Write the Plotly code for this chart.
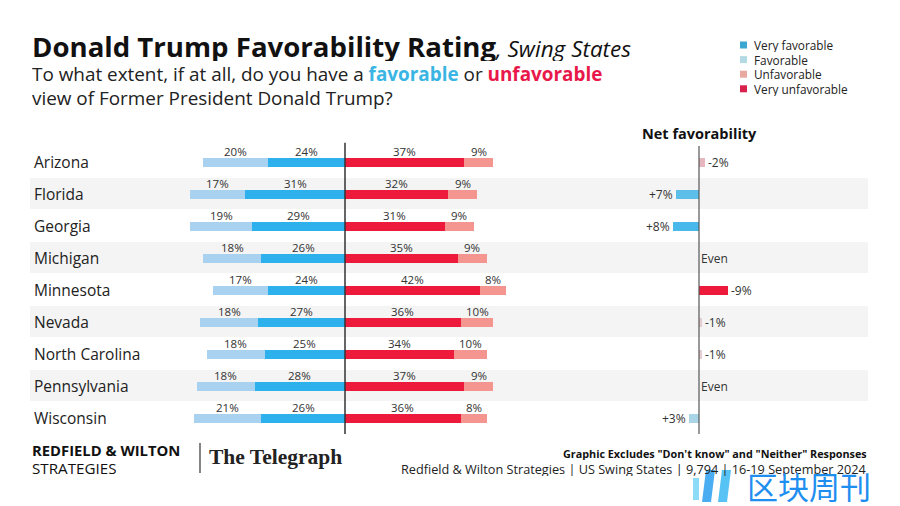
import plotly.graph_objects as go

states = ["Arizona", "Florida", "Georgia", "Michigan", "Minnesota", "Nevada",
          "North Carolina", "Pennsylvania", "Wisconsin"]
very_fav = [24, 31, 29, 26, 24, 27, 25, 28, 26]
fav = [20, 17, 19, 18, 17, 18, 18, 18, 21]
unfav = [9, 9, 9, 9, 8, 10, 10, 9, 8]
very_unfav = [37, 32, 31, 35, 42, 36, 34, 37, 36]
net = [-2, 7, 8, 0, -9, -1, -1, 0, 3]
legend_names = ["Very favorable", "Favorable", "Unfavorable", "Very unfavorable"]

C_VF = "#2cb1ec"
C_F = "#a9d2f0"
C_U = "#f4968f"
C_VU = "#ee1a3c"
LEG_COLORS = ["#3aa8d0", "#b3d9e3", "#e8a9a0", "#d8204c"]
FONT = "Open Sans"
W, H = 900, 506
PXPCT = 3.22
CX, NX = 345, 699
ROW0, ROWH = 162, 32

def px_y(p):
    return 1 - p / H

ys = list(range(len(states)))
fig = go.Figure()
bw = 9 / ROWH
common = dict(orientation="h", width=bw, hoverinfo="skip", showlegend=False)
fig.add_trace(go.Bar(y=ys, x=[-v for v in very_fav], name="Very favorable",
                     marker=dict(color=C_VF, line=dict(width=0)), **common))
fig.add_trace(go.Bar(y=ys, x=[-v for v in fav], name="Favorable",
                     marker=dict(color=C_F, line=dict(width=0)), **common))
fig.add_trace(go.Bar(y=ys, x=very_unfav, name="Very unfavorable",
                     marker=dict(color=C_VU, line=dict(width=0)), **common))
fig.add_trace(go.Bar(y=ys, x=unfav, name="Unfavorable",
                     marker=dict(color=C_U, line=dict(width=0)), **common))
fig.add_trace(go.Bar(y=ys, x=net, xaxis="x2", yaxis="y", name="Net",
                     marker=dict(color=net, cmin=-9, cmax=9,
                                 colorscale=[[0, "#ee1a3c"], [0.5, "#e4e4e4"], [1, "#36b3ec"]],
                                 line=dict(width=0)),
                     **common))

ann = []
shapes = []
# row bands
for i in ys:
    if i % 2 == 1:
        shapes.append(dict(type="rect", xref="paper", yref="y", x0=30 / W, x1=868 / W,
                           y0=i - 0.5, y1=i + 0.47, fillcolor="#f4f4f4", line=dict(width=0),
                           layer="below"))
# state labels and value labels
for i, s in enumerate(states):
    ann.append(dict(x=32 / W, xref="paper", y=i, yref="y", text=s, showarrow=False,
                    xanchor="left", yanchor="middle", font=dict(size=15.5, color="#222", family=FONT)))
    lab = dict(showarrow=False, yref="y", xref="x", yshift=11, yanchor="middle",
               font=dict(size=11.5, color="#333", family=FONT))
    ann.append(dict(lab, x=-very_fav[i] / 2, y=i, text=f"{very_fav[i]}%"))
    ann.append(dict(lab, x=-very_fav[i] - fav[i] / 2, y=i, text=f"{fav[i]}%"))
    ann.append(dict(lab, x=very_unfav[i] / 2, y=i, text=f"{very_unfav[i]}%"))
    ann.append(dict(lab, x=very_unfav[i] + unfav[i] / 2, y=i, text=f"{unfav[i]}%"))
    nf = dict(showarrow=False, yref="y", xref="x2", y=i, yanchor="middle",
              font=dict(size=12, color="#333", family=FONT))
    if net[i] > 0:
        ann.append(dict(nf, x=net[i], xanchor="right", xshift=-1, text=f"+{net[i]}%"))
    elif net[i] < 0:
        ann.append(dict(nf, x=net[i], xanchor="left", xshift=1, text=f"{net[i]}%"))
    else:
        ann.append(dict(nf, x=0, xanchor="left", xshift=0, text="Even"))

# axis lines
shapes.append(dict(type="line", xref="x", yref="y", x0=0, x1=0, y0=-0.6, y1=8.5,
                   line=dict(color="#333", width=1.5)))
shapes.append(dict(type="line", xref="x2", yref="y", x0=0, x1=0, y0=-0.5, y1=8.5,
                   line=dict(color="#555", width=1.2)))

# legend (manual)
for k, (nm, col) in enumerate(zip(legend_names, LEG_COLORS)):
    yc = 45 + k * 14.6
    shapes.append(dict(type="rect", xref="paper", yref="paper", x0=740 / W, x1=747 / W,
                       y0=px_y(yc + 3.5), y1=px_y(yc - 3.5), fillcolor=col, line=dict(width=0)))
    ann.append(dict(xref="paper", yref="paper", x=752 / W, y=px_y(yc), xanchor="left",
                    yanchor="middle", showarrow=False, text=nm, height=14, valign="middle",
                    font=dict(size=11.8, color="#222", family=FONT)))

# titles
ann.append(dict(xref="paper", yref="paper", x=30 / W, y=px_y(46), xanchor="left", yanchor="middle",
                showarrow=False, height=30,
                text="<b>Donald Trump Favorability Rating</b><span style='font-size:22.5px'><i>, Swing States</i></span>",
                font=dict(size=27.6, color="#111", family=FONT)))
ann.append(dict(xref="paper", yref="paper", x=30 / W, y=px_y(86), xanchor="left", yanchor="middle",
                showarrow=False, align="left", height=46,
                text="To what extent, if at all, do you have a <b><span style='color:#3ab5e3'>favorable</span></b> or "
                     "<b><span style='color:#e8194a'>unfavorable</span></b><br>view of Former President Donald Trump?",
                font=dict(size=18.9, color="#222", family=FONT)))
ann.append(dict(xref="x2", yref="paper", x=0, y=px_y(133), xanchor="center", yanchor="middle",
                showarrow=False, text="<b>Net favorability</b>",
                font=dict(size=14.5, color="#111", family=FONT)))

# footer
ann.append(dict(xref="paper", yref="paper", x=30 / W, y=px_y(450), xanchor="left", yanchor="middle",
                showarrow=False, text="<b>REDFIELD & WILTON</b>", height=16,
                font=dict(size=14.8, color="#111", family=FONT)))
ann.append(dict(xref="paper", yref="paper", x=30 / W, y=px_y(467.5), xanchor="left", yanchor="middle",
                showarrow=False, text="STRATEGIES", height=16,
                font=dict(size=15.2, color="#111", family=FONT)))
shapes.append(dict(type="line", xref="paper", yref="paper", x0=200 / W, x1=200 / W,
                   y0=px_y(443), y1=px_y(473), line=dict(color="#333", width=1.2)))
ann.append(dict(xref="paper", yref="paper", x=207 / W, y=px_y(457), xanchor="left", yanchor="middle",
                showarrow=False, text="<b>The Telegraph</b>",
                font=dict(size=21.5, color="#222", family="Liberation Serif")))
ann.append(dict(xref="paper", yref="paper", x=869 / W, y=px_y(453), xanchor="right", yanchor="middle",
                showarrow=False, text="<b>Graphic Excludes \"Don't know\" and \"Neither\" Responses</b>",
                height=14, font=dict(size=10.8, color="#111", family=FONT)))
ann.append(dict(xref="paper", yref="paper", x=869 / W, y=px_y(468), xanchor="right", yanchor="middle",
                showarrow=False, text="Redfield & Wilton Strategies | US Swing States | 9,794 | 16-19 September 2024",
                height=15, font=dict(size=12.7, color="#222", family=FONT)))
# watermark
ann.append(dict(xref="paper", yref="paper", x=745 / W, y=px_y(485), xanchor="left", yanchor="middle",
                showarrow=False, text="区块周刊", height=34,
                font=dict(size=31, color="#1e8ef0", family="Noto Sans CJK SC")))
for x0, col in [(706, "#2a9ff0"), (722, "#38b8f2")]:
    shapes.append(dict(type="path", xref="paper", yref="paper",
                       path=f"M {(x0)/W},{px_y(470)} L {(x0+9)/W},{px_y(470)} L {(x0+5)/W},{px_y(502)} L {(x0-4)/W},{px_y(502)} Z",
                       fillcolor=col, line=dict(width=0), opacity=0.85))
shapes.append(dict(type="rect", xref="paper", yref="paper", x0=693 / W, x1=699 / W,
                   y0=px_y(478), y1=px_y(500), fillcolor="#6fd3f5", line=dict(width=0), opacity=0.8))

fig.update_layout(
    width=W, height=H, margin=dict(l=0, r=0, t=0, b=0),
    paper_bgcolor="white", plot_bgcolor="rgba(0,0,0,0)",
    barmode="relative", bargap=0,
    xaxis=dict(domain=[150 / W, 560 / W], range=[(150 - CX) / PXPCT, (560 - CX) / PXPCT],
               visible=False, fixedrange=True),
    xaxis2=dict(domain=[620 / W, 780 / W], range=[(NX - 620) / PXPCT, -(780 - NX) / PXPCT],
                visible=False, anchor="y", fixedrange=True),
    yaxis=dict(domain=[0, 1], range=[(H - ROW0) / ROWH, -ROW0 / ROWH], visible=False,
               fixedrange=True),
    annotations=ann, shapes=shapes, showlegend=False,
)
fig.write_html("out.html", config={"displayModeBar": False},
               post_script="document.body.style.margin='0px';document.body.style.padding='0px';")
